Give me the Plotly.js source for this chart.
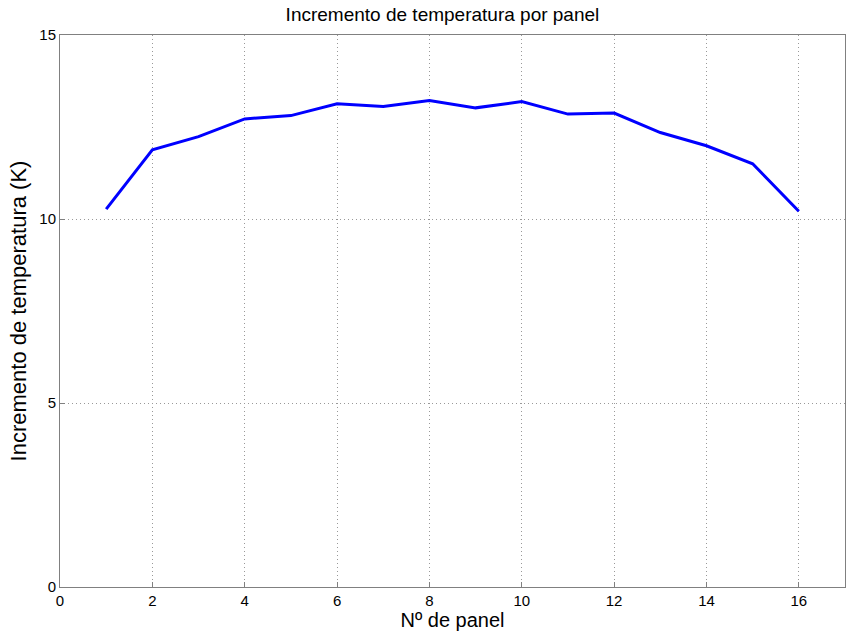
<!DOCTYPE html>
<html>
<head>
<meta charset="utf-8">
<script src="https://cdn.plot.ly/plotly-3.0.1.min.js"></script>
<style>html,body{margin:0;padding:0;background:#fff;}#chart{width:846px;height:636px;}</style>
</head>
<body>
<div id="chart"></div>
<script>
const panels = [1,2,3,4,5,6,7,8,9,10,11,12,13,14,15,16];
const tempIncrease = [10.27,11.88,12.24,12.72,12.81,13.13,13.06,13.22,13.02,13.19,12.85,12.88,12.35,11.99,11.50,10.21];
const xTicks = [0,2,4,6,8,10,12,14,16];
const yTicks = [0,5,10,15];

const font = "Liberation Sans, Arial, sans-serif";
Plotly.newPlot('chart', [{
  x: panels, y: tempIncrease, type: 'scatter', mode: 'lines',
  line: {color: '#0000ff', width: 3}, hoverinfo: 'skip'
}], {
  width: 846, height: 636,
  margin: {l: 60, r: 1, t: 35, b: 49},
  paper_bgcolor: '#fff', plot_bgcolor: '#fff',
  showlegend: false,
  title: {text: 'Incremento de temperatura por panel', font: {family: font, size: 19, color: '#000'}, x: 0.523, xanchor: 'center', y: 0.977, yanchor: 'middle'},
  xaxis: {
    range: [0, 17], tickvals: xTicks, ticktext: xTicks.map(String),
    showgrid: true, gridcolor: '#999', griddash: '1px,3px', gridwidth: 1,
    showline: true, linecolor: '#808080', linewidth: 1, mirror: true,
    ticks: 'inside', ticklen: 5, tickcolor: '#808080',
    zeroline: false,
    tickfont: {family: font, size: 15, color: '#000'},
    title: {text: 'Nº de panel', font: {family: font, size: 20, color: '#000'}, standoff: 2}
  },
  yaxis: {
    range: [0, 15], tickvals: yTicks, ticktext: yTicks.map(String),
    showgrid: true, gridcolor: '#999', griddash: '1px,3px', gridwidth: 1,
    showline: true, linecolor: '#808080', linewidth: 1, mirror: true,
    ticks: 'inside', ticklen: 5, tickcolor: '#808080',
    zeroline: false,
    tickfont: {family: font, size: 15, color: '#000'},
    title: {text: 'Incremento de temperatura (K)', font: {family: font, size: 22, color: '#000'}, standoff: 6}
  }
}, {staticPlot: true, displayModeBar: false});
</script>
</body>
</html>
